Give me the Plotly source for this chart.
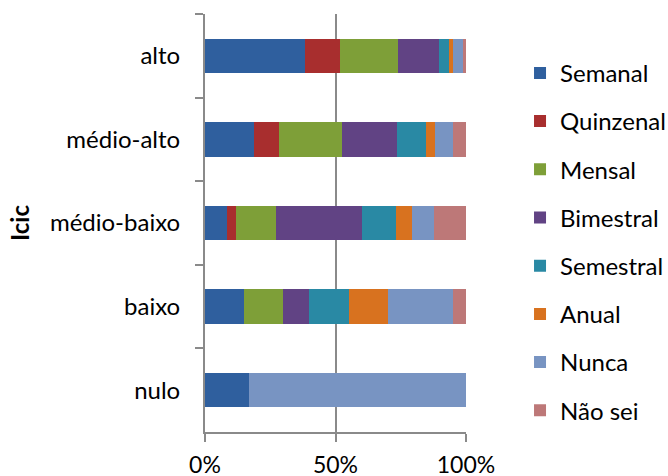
import plotly.graph_objects as go

# Social-class groups (top to bottom) and answer frequencies, in percent
categories = ["alto", "médio-alto", "médio-baixo", "baixo", "nulo"]
series_names = ["Semanal", "Quinzenal", "Mensal", "Bimestral",
                "Semestral", "Anual", "Nunca", "Não sei"]

semanal   = [38.4, 18.7, 8.6, 15.0, 16.7]
quinzenal = [13.3, 9.6, 3.2, 0.0, 0.0]
mensal    = [22.3, 24.2, 15.4, 15.0, 0.0]
bimestral = [15.7, 21.1, 33.0, 10.0, 0.0]
semestral = [3.8, 11.1, 13.1, 15.0, 0.0]
anual     = [1.5, 3.6, 6.1, 15.0, 0.0]
nunca     = [3.9, 6.9, 8.2, 25.0, 83.3]
nao_sei   = [1.0, 4.8, 12.4, 5.0, 0.0]

tick_values = [0, 50, 100]
tick_labels = ["0%", "50%", "100%"]

values = [semanal, quinzenal, mensal, bimestral, semestral, anual, nunca, nao_sei]
colors = ["#2f5f9e", "#a82e2e", "#7e9f38", "#614384",
          "#2989a4", "#d8721f", "#7894c2", "#bd7878"]

FONT = "Lato"
GREY = "#8a8a8a"

fig = go.Figure()
for name, vals, col in zip(series_names, values, colors):
    fig.add_trace(go.Bar(
        y=categories, x=vals, name=name, orientation="h",
        marker=dict(color=col, line=dict(width=0)),
        legendgroup=name,
    ))

fig.update_layout(
    width=668, height=476,
    margin=dict(l=205, r=202, t=14, b=44, autoexpand=False),
    barmode="stack",
    bargap=0.59,
    plot_bgcolor="white", paper_bgcolor="white",
    font=dict(family=FONT, size=24, color="#000000"),
    showlegend=True,
    legend=dict(
        x=1.207, xanchor="left", y=0.455, yanchor="middle",
        traceorder="grouped", tracegroupgap=14,
        font=dict(family=FONT, size=24, color="#000000"),
        itemclick=False,
    ),
    xaxis=dict(
        range=[0, 100], tickvals=tick_values, ticktext=tick_labels,
        tickfont=dict(family=FONT, size=23),
        showgrid=True, gridcolor=GREY, gridwidth=1.5,
        showline=True, linecolor=GREY, linewidth=2,
        ticks="outside", ticklen=8, tickcolor=GREY, tickwidth=2,
        zeroline=False, ticklabelstandoff=3,
    ),
    yaxis=dict(
        autorange="reversed", type="category",
        showline=True, linecolor=GREY, linewidth=2,
        ticks="outside", ticklen=8, tickcolor=GREY, tickwidth=2,
        tickson="boundaries", showgrid=False,
        ticklabelstandoff=18,
        title=dict(text="<b>Icic</b>", font=dict(family=FONT, size=24), standoff=14),
    ),
)

fig.write_html("out.html")
